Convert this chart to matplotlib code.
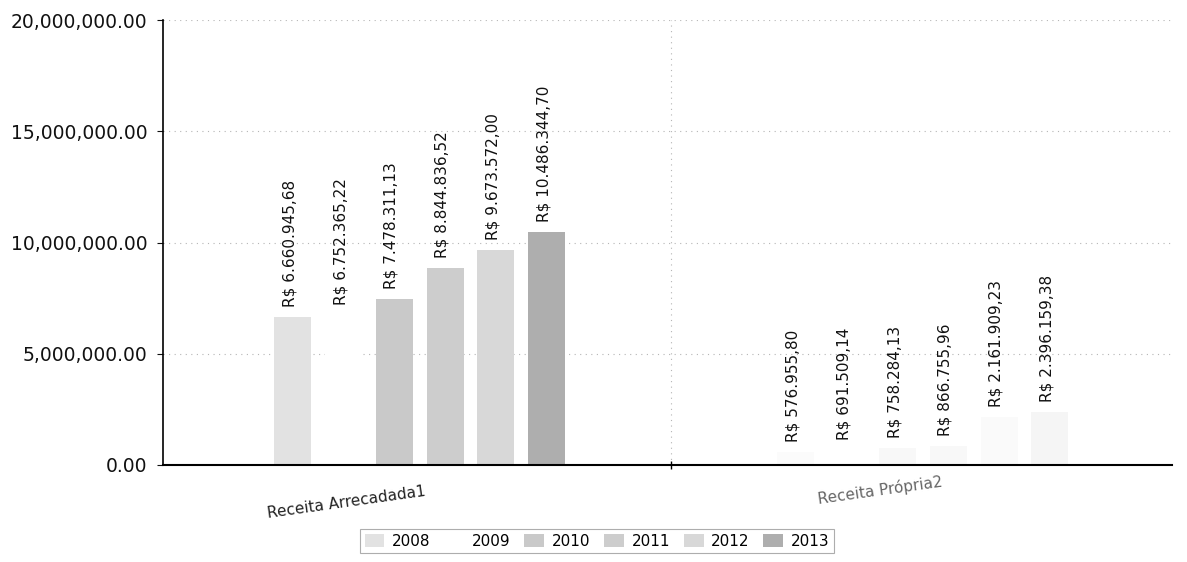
import matplotlib
matplotlib.use("Agg")
import matplotlib.pyplot as plt
from matplotlib.ticker import FuncFormatter, MultipleLocator
import numpy as np

categories = ["Receita Arrecadada1", "Receita Própria2"]
years = ["2008", "2009", "2010", "2011", "2012", "2013"]
values = {
    "2008": [6660945.68, 576955.80],
    "2009": [6752365.22, 691509.14],
    "2010": [7478311.13, 758284.13],
    "2011": [8844836.52, 866755.96],
    "2012": [9673572.00, 2161909.23],
    "2013": [10486344.70, 2396159.38],
}
colors = ["#e2e2e2", "#ffffff", "#c9c9c9", "#cdcdcd", "#d8d8d8", "#aeaeae"]
cat_alpha = [1.0, 0.12]

def brl(v):
    s = f"{v:,.2f}"
    s = s.replace(",", "X").replace(".", ",").replace("X", ".")
    return "R$ " + s

plt.rcParams['font.family'] = ['DejaVu Sans']
fig = plt.figure(figsize=(11.87, 5.62), dpi=100)
ax = fig.add_axes([0.1373, 0.1726, 0.8500, 0.7918])

x = np.arange(len(categories))
step = 0.101
width = 0.0735
n = len(years)
for i, (yr, col) in enumerate(zip(years, colors)):
    offs = (i - (n - 1) / 2) * step
    bars = ax.bar(x + offs, values[yr], width, color=col, edgecolor="none",
                  hatch="....", label=yr, zorder=2)
    for b, a in zip(bars, cat_alpha):
        b._hatch_color = (1, 1, 1, 0.6)
        b.set_alpha(a)
    for xi, v in zip(x + offs, values[yr]):
        ax.annotate(brl(v), (xi, v), xytext=(-2, 7), textcoords="offset points",
                    rotation=90, ha="center", va="bottom", fontsize=11,
                    color="#111111")

ax.set_xlim(-0.51, 1.495)
ax.set_ylim(0, 20000000)
ax.yaxis.set_major_locator(MultipleLocator(5000000))
ax.yaxis.set_major_formatter(FuncFormatter(lambda v, p: f"{v:,.2f}"))
ax.tick_params(axis="y", labelsize=13.5, length=4, width=0.8, pad=7,
               colors="#111111")
ax.grid(axis="y", linestyle=(0, (1, 4)), color="#b5b5b5", linewidth=0.8, zorder=0)
ax.axvline(0.5, linestyle=(0, (1, 4)), color="#b5b5b5", linewidth=0.8, zorder=0)

ax.set_xticks([0.5], minor=False)
ax.set_xticklabels([""])
ax.tick_params(axis="x", length=6, width=1, direction="inout")
label_x = [-0.145, 0.915]
label_y = [-0.085, -0.056]
label_cols = ["#222222", "#666666"]
for lx, ly, cat, lc in zip(label_x, label_y, categories, label_cols):
    ax.text(lx, ly, cat, transform=ax.get_xaxis_transform(), rotation=8,
            ha="center", va="center", fontsize=11, color=lc)

for s in ["top", "right"]:
    ax.spines[s].set_visible(False)
ax.spines["left"].set_linewidth(1.2)
ax.spines["bottom"].set_linewidth(1.5)

leg = fig.legend(loc="center", bbox_to_anchor=(0.503, 0.037), ncol=6,
                 fontsize=11, frameon=True, handlelength=1.3, handleheight=1.0,
                 columnspacing=0.9, handletextpad=0.5, borderpad=0.3,
                 fancybox=False)
leg.get_frame().set_edgecolor("#999999")
leg.get_frame().set_linewidth(0.8)

fig.savefig("out.png", dpi=100)
